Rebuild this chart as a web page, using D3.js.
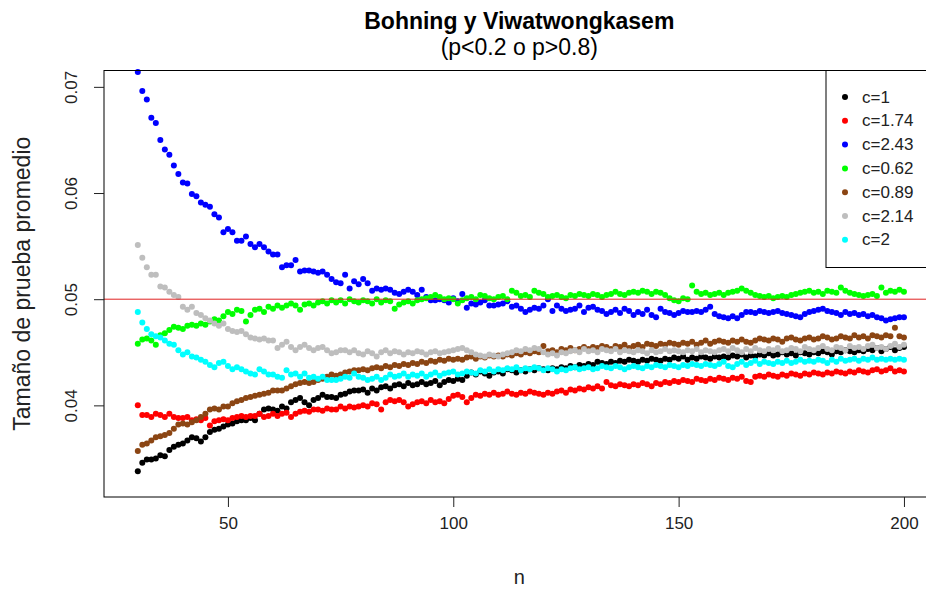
<!DOCTYPE html>
<html>
<head>
<meta charset="utf-8">
<script src="https://cdn.jsdelivr.net/npm/d3@7"></script>
<style>
  body { margin: 0; background: #fff; }
  svg { display: block; font-family: "Liberation Sans", Arial, sans-serif; }
</style>
</head>
<body>
<div id="graf"></div>
<script>
// tamaño de muestra n = 30..200
const n = d3.range(30, 201)

const c1 = [
  .0338, .0346, .0349, .0349, .0350, .0353, .0352, .0358, .0361, .0363,
  .0364, .0367, .0370, .0369, .0366, .0370, .0375, .0377, .0378, .0380,
  .0382, .0383, .0385, .0386, .0386, .0388, .0386, .0392, .0396, .0397,
  .0396, .0395, .0399, .0397, .0403, .0405, .0407, .0403, .0400, .0405,
  .0407, .0410, .0408, .0408, .0407, .0410, .0411, .0413, .0414, .0414,
  .0415, .0412, .0416, .0414, .0417, .0418, .0416, .0419, .0420, .0418,
  .0421, .0419, .0420, .0422, .0420, .0421, .0423, .0419, .0422, .0424,
  .0423, .0425, .0424, .0428, .0431, .0429, .0432, .0430, .0428, .0431,
  .0432, .0430, .0434, .0433, .0431, .0433, .0432, .0434, .0433, .0435,
  .0434, .0433, .0435, .0434, .0436, .0435, .0437, .0436, .0438, .0437,
  .0439, .0438, .0441, .0440, .0439, .0441, .0440, .0442, .0441, .0443,
  .0442, .0441, .0443, .0442, .0444, .0443, .0442, .0444, .0443, .0445,
  .0444, .0446, .0443, .0445, .0444, .0446, .0445, .0444, .0446, .0445,
  .0446, .0445, .0447, .0446, .0448, .0445, .0447, .0446, .0448, .0447,
  .0449, .0447, .0448, .0450, .0448, .0449, .0447, .0450, .0449, .0448,
  .0450, .0449, .0451, .0450, .0448, .0451, .0450, .0452, .0451, .0450,
  .0452, .0451, .0453, .0452, .0454, .0451, .0453, .0455, .0452, .0454,
  .0455]

const c174 = [
  .0400, .0391, .0391, .0389, .0392, .0391, .0389, .0392, .0389, .0388,
  .0388, .0389, .0386, .0387, .0386, .0388, .0381, .0385, .0386, .0387,
  .0386, .0388, .0389, .0390, .0389, .0390, .0390, .0392, .0389, .0390,
  .0392, .0390, .0392, .0393, .0389, .0392, .0394, .0395, .0394, .0396,
  .0396, .0395, .0397, .0396, .0396, .0399, .0397, .0399, .0398, .0399,
  .0400, .0399, .0402, .0401, .0396, .0403, .0405, .0404, .0405, .0403,
  .0399, .0401, .0403, .0404, .0402, .0405, .0403, .0404, .0402, .0406,
  .0409, .0410, .0408, .0403, .0407, .0410, .0409, .0411, .0410, .0412,
  .0410, .0411, .0413, .0411, .0410, .0412, .0411, .0413, .0412, .0411,
  .0410, .0412, .0411, .0413, .0414, .0412, .0415, .0414, .0416, .0415,
  .0417, .0416, .0418, .0416, .0422, .0419, .0418, .0420, .0419, .0418,
  .0420, .0419, .0421, .0420, .0418, .0421, .0420, .0422, .0421, .0423,
  .0422, .0424, .0423, .0422, .0425, .0424, .0423, .0425, .0424, .0426,
  .0425, .0424, .0426, .0425, .0427, .0423, .0422, .0427, .0428, .0427,
  .0429, .0428, .0427, .0429, .0428, .0430, .0429, .0428, .0430, .0429,
  .0431, .0430, .0429, .0431, .0430, .0432, .0431, .0430, .0432, .0431,
  .0433, .0432, .0431, .0433, .0434, .0432, .0433, .0435, .0432, .0433,
  .0432]

const c243 = [
  .0714, .0696, .0688, .0671, .0666, .0650, .0641, .0636, .0626, .0618,
  .0610, .0609, .0599, .0597, .0591, .0589, .0587, .0580, .0577, .0563,
  .0566, .0563, .0555, .0555, .0559, .0552, .0549, .0552, .0549, .0545,
  .0542, .0542, .0530, .0532, .0532, .0537, .0526, .0527, .0527, .0526,
  .0525, .0526, .0523, .0519, .0516, .0515, .0523, .0510, .0517, .0514,
  .0519, .0515, .0508, .0510, .0509, .0510, .0509, .0506, .0505, .0507,
  .0509, .0507, .0504, .0509, .0502, .0499, .0499, .0500, .0499, .0497,
  .0501, .0498, .0505, .0492, .0496, .0495, .0497, .0499, .0494, .0494,
  .0495, .0496, .0498, .0493, .0494, .0491, .0488, .0490, .0492, .0491,
  .0494, .0500, .0489, .0494, .0491, .0489, .0490, .0491, .0494, .0488,
  .0492, .0493, .0490, .0489, .0486, .0488, .0490, .0487, .0491, .0489,
  .0485, .0488, .0486, .0490, .0485, .0483, .0491, .0488, .0487, .0485,
  .0487, .0489, .0488, .0488, .0489, .0488, .0490, .0493, .0486, .0484,
  .0483, .0482, .0484, .0482, .0485, .0488, .0488, .0487, .0489, .0488,
  .0487, .0488, .0489, .0487, .0486, .0485, .0484, .0483, .0486, .0488,
  .0489, .0490, .0491, .0489, .0488, .0487, .0485, .0488, .0486, .0487,
  .0485, .0486, .0484, .0485, .0483, .0482, .0480, .0481, .0482, .0483,
  .0483]

const c062 = [
  .0458, .0462, .0463, .0461, .0457, .0466, .0468, .0471, .0474, .0473,
  .0472, .0475, .0476, .0475, .0477, .0476, .0479, .0481, .0480, .0484,
  .0488, .0486, .0490, .0489, .0479, .0485, .0490, .0491, .0488, .0493,
  .0491, .0494, .0492, .0494, .0496, .0494, .0490, .0495, .0496, .0494,
  .0497, .0498, .0496, .0499, .0497, .0499, .0496, .0500, .0498, .0497,
  .0499, .0498, .0496, .0500, .0497, .0499, .0498, .0491, .0495, .0497,
  .0498, .0496, .0499, .0500, .0501, .0502, .0504, .0502, .0500, .0501,
  .0500, .0496, .0499, .0501, .0502, .0500, .0504, .0503, .0501, .0500,
  .0502, .0503, .0500, .0508, .0506, .0503, .0504, .0502, .0508, .0506,
  .0505, .0502, .0503, .0504, .0502, .0501, .0504, .0503, .0505, .0504,
  .0503, .0505, .0504, .0502, .0504, .0505, .0507, .0505, .0504, .0506,
  .0507, .0506, .0508, .0507, .0505, .0507, .0506, .0504, .0501, .0499,
  .0498, .0501, .0500, .0513, .0507, .0505, .0506, .0504, .0505, .0506,
  .0504, .0506, .0507, .0508, .0510, .0508, .0506, .0504, .0503, .0502,
  .0503, .0501, .0502, .0503, .0502, .0504, .0505, .0506, .0507, .0508,
  .0506, .0507, .0505, .0508, .0507, .0506, .0511, .0508, .0506, .0505,
  .0504, .0503, .0504, .0505, .0503, .0511, .0506, .0508, .0507, .0509,
  .0507]

const c089 = [
  .0357, .0363, .0364, .0367, .0370, .0371, .0372, .0374, .0378, .0382,
  .0383, .0382, .0384, .0386, .0389, .0392, .0396, .0397, .0396, .0399,
  .0399, .0402, .0404, .0405, .0407, .0408, .0409, .0410, .0411, .0412,
  .0414, .0414, .0414, .0416, .0418, .0420, .0421, .0422, .0421, .0422,
  .0424, .0425, .0427, .0429, .0428, .0429, .0431, .0432, .0433, .0433,
  .0434, .0433, .0435, .0436, .0435, .0437, .0436, .0438, .0437, .0439,
  .0438, .0440, .0439, .0441, .0440, .0442, .0441, .0443, .0442, .0444,
  .0443, .0444, .0443, .0445, .0446, .0444, .0446, .0445, .0447, .0446,
  .0447, .0446, .0448, .0447, .0449, .0448, .0450, .0449, .0451, .0450,
  .0456, .0451, .0452, .0450, .0453, .0452, .0454, .0452, .0453, .0455,
  .0453, .0455, .0454, .0456, .0455, .0453, .0456, .0455, .0457, .0454,
  .0456, .0457, .0455, .0458, .0457, .0456, .0458, .0457, .0459, .0458,
  .0457, .0459, .0458, .0460, .0457, .0459, .0461, .0458, .0460, .0461,
  .0460, .0459, .0461, .0460, .0462, .0460, .0459, .0461, .0463, .0462,
  .0461, .0463, .0462, .0460, .0463, .0464, .0462, .0461, .0463, .0464,
  .0462, .0463, .0465, .0464, .0462, .0463, .0465, .0464, .0463, .0466,
  .0464, .0465, .0463, .0466, .0465, .0464, .0466, .0465, .0473, .0465,
  .0464]

const c214 = [
  .0551, .0539, .0530, .0523, .0523, .0512, .0511, .0507, .0504, .0502,
  .0493, .0490, .0493, .0487, .0485, .0482, .0480, .0477, .0475, .0477,
  .0472, .0470, .0469, .0470, .0467, .0464, .0463, .0462, .0463, .0461,
  .0461, .0454, .0457, .0460, .0455, .0452, .0455, .0457, .0454, .0452,
  .0454, .0455, .0452, .0449, .0450, .0452, .0452, .0450, .0452, .0449,
  .0448, .0451, .0449, .0446, .0450, .0452, .0449, .0451, .0450, .0448,
  .0450, .0449, .0451, .0450, .0448, .0450, .0451, .0449, .0450, .0451,
  .0452, .0453, .0454, .0452, .0450, .0448, .0447, .0446, .0448, .0447,
  .0446, .0448, .0449, .0450, .0452, .0451, .0453, .0452, .0454, .0453,
  .0450, .0448, .0449, .0447, .0450, .0449, .0451, .0452, .0450, .0453,
  .0451, .0452, .0450, .0453, .0452, .0451, .0453, .0450, .0452, .0451,
  .0450, .0452, .0451, .0449, .0452, .0450, .0451, .0453, .0451, .0452,
  .0451, .0450, .0452, .0451, .0453, .0450, .0452, .0451, .0450, .0452,
  .0453, .0451, .0454, .0452, .0450, .0453, .0451, .0454, .0452, .0451,
  .0453, .0452, .0454, .0451, .0452, .0454, .0453, .0451, .0455, .0453,
  .0452, .0454, .0456, .0453, .0452, .0455, .0454, .0452, .0456, .0454,
  .0455, .0453, .0456, .0457, .0454, .0455, .0453, .0456, .0458, .0455,
  .0457]

const c2 = [
  .0488, .0478, .0472, .0467, .0465, .0464, .0461, .0458, .0457, .0452,
  .0448, .0450, .0446, .0445, .0443, .0441, .0438, .0436, .0440, .0441,
  .0437, .0434, .0436, .0434, .0432, .0430, .0429, .0434, .0432, .0429,
  .0429, .0427, .0426, .0433, .0429, .0430, .0427, .0430, .0426, .0427,
  .0425, .0427, .0424, .0424, .0424, .0425, .0427, .0426, .0430, .0427,
  .0426, .0424, .0425, .0427, .0424, .0426, .0429, .0427, .0428, .0430,
  .0427, .0429, .0428, .0430, .0427, .0429, .0431, .0428, .0430, .0431,
  .0432, .0429, .0430, .0432, .0431, .0430, .0433, .0432, .0434, .0432,
  .0434, .0433, .0435, .0434, .0436, .0433, .0435, .0434, .0436, .0435,
  .0433, .0435, .0434, .0432, .0434, .0433, .0435, .0436, .0434, .0435,
  .0436, .0434, .0435, .0437, .0436, .0435, .0437, .0436, .0434, .0436,
  .0437, .0436, .0435, .0437, .0436, .0438, .0437, .0436, .0438, .0437,
  .0436, .0438, .0437, .0439, .0438, .0437, .0439, .0438, .0437, .0439,
  .0441, .0437, .0436, .0439, .0441, .0438, .0440, .0442, .0439, .0441,
  .0440, .0439, .0441, .0440, .0442, .0440, .0441, .0443, .0441, .0442,
  .0441, .0443, .0442, .0440, .0443, .0441, .0444, .0442, .0443, .0444,
  .0442, .0444, .0443, .0445, .0443, .0444, .0443, .0444, .0443, .0444,
  .0443]

const etiquetas = ["c=1", "c=1.74", "c=2.43", "c=0.62", "c=0.89", "c=2.14", "c=2"]
const colores = ["#000000", "#ff0000", "#0000ff", "#00ff00", "#8b4513", "#bebebe", "#00ffff"]
const xTicks = [50, 100, 150, 200]
const yTicks = [0.04, 0.05, 0.06, 0.07]
const referencia = 0.05

const series = [c1, c174, c243, c062, c089, c214, c2].map((v, i) => ({
  label: etiquetas[i],
  color: colores[i],
  puntos: v.map((d, j) => ({ n: n[j], y: d }))
}))

const ancho = 926
const alto = 593
const m = { left: 104, top: 70.5, right: 934.6, bottom: 497 }

const svg = d3.select("#graf")
  .append("svg")
  .attr("width", ancho)
  .attr("height", alto)

const x = d3.scaleLinear().domain([22.5, 206.8]).range([m.left, m.right])
const y = d3.scaleLinear().domain([0.03137, 0.07154]).range([m.bottom, m.top])

// puntos
const gPuntos = svg.append("g")
series.forEach(s => {
  gPuntos.append("g")
    .selectAll("circle")
    .data(s.puntos)
    .enter()
    .append("circle")
    .attr("cx", d => x(d.n))
    .attr("cy", d => y(d.y))
    .attr("r", 3)
    .attr("fill", s.color)
})

// linea de referencia
svg.append("line")
  .attr("x1", m.left)
  .attr("x2", m.right)
  .attr("y1", y(referencia))
  .attr("y2", y(referencia))
  .attr("stroke", "#e02020")
  .attr("stroke-width", 1)

// marco
svg.append("rect")
  .attr("x", m.left)
  .attr("y", m.top)
  .attr("width", m.right - m.left)
  .attr("height", m.bottom - m.top)
  .attr("fill", "none")
  .attr("stroke", "#000")
  .attr("stroke-width", 1)

// ejes
const ejeX = svg.append("g")
  .attr("transform", `translate(0, ${m.bottom})`)
  .call(d3.axisBottom(x).tickValues(xTicks).tickSize(10).tickPadding(10).tickFormat(d3.format("d")))
ejeX.select(".domain").remove()
ejeX.selectAll("text").attr("font-size", 17).attr("font-family", null).attr("fill", "#222")
ejeX.selectAll("line").attr("stroke", "#222")

const ejeY = svg.append("g")
  .attr("transform", `translate(${m.left}, 0)`)
  .call(d3.axisLeft(y).tickValues(yTicks).tickSize(10).tickFormat(d3.format(".2f")))
ejeY.select(".domain").remove()
ejeY.selectAll("line").attr("stroke", "#222")
ejeY.selectAll("text")
  .attr("font-size", 17)
  .attr("font-family", null)
  .attr("fill", "#222")
  .attr("x", null)
  .attr("dy", null)
  .attr("text-anchor", "middle")
  .attr("dominant-baseline", "central")
  .attr("transform", "translate(-33,0) rotate(-90)")

// titulos
svg.append("text")
  .attr("x", (m.left + m.right) / 2)
  .attr("y", 28.5)
  .attr("text-anchor", "middle")
  .attr("font-size", 23)
  .attr("font-weight", "bold")
  .text("Bohning y Viwatwongkasem")

svg.append("text")
  .attr("x", (m.left + m.right) / 2)
  .attr("y", 54.5)
  .attr("text-anchor", "middle")
  .attr("font-size", 23)
  .text("(p<0.2 o p>0.8)")

svg.append("text")
  .attr("x", (m.left + m.right) / 2)
  .attr("y", 584)
  .attr("text-anchor", "middle")
  .attr("font-size", 20)
  .attr("fill", "#222")
  .text("n")

svg.append("text")
  .attr("transform", `translate(22, ${(m.top + m.bottom) / 2}) rotate(-90)`)
  .attr("text-anchor", "middle")
  .attr("dominant-baseline", "central")
  .attr("font-size", 23)
  .attr("fill", "#222")
  .text("Tamaño de prueba promedio")

// leyenda
const leyenda = svg.append("g").attr("transform", `translate(826, ${m.top})`)
leyenda.append("rect")
  .attr("width", 120)
  .attr("height", 197)
  .attr("fill", "#fff")
  .attr("stroke", "#000")

const items = leyenda.selectAll("g.item")
  .data(series)
  .enter()
  .append("g")
  .attr("class", "item")
  .attr("transform", (d, i) => `translate(0, ${26.5 + i * 23.8})`)

items.append("circle").attr("cx", 19).attr("r", 3).attr("fill", d => d.color)
items.append("text")
  .attr("x", 36)
  .attr("dominant-baseline", "central")
  .attr("font-size", 17)
  .attr("fill", "#222")
  .text(d => d.label)
</script>
</body>
</html>
